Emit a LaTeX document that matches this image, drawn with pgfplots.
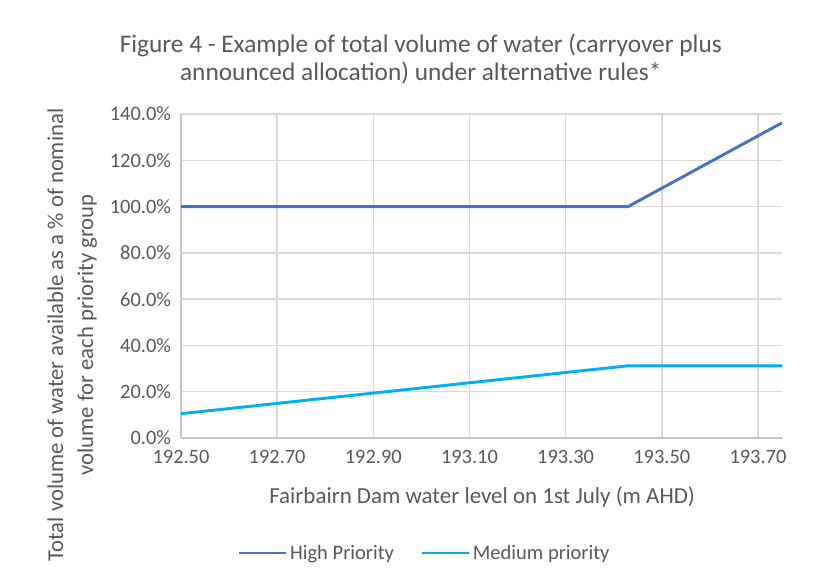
\documentclass[border=0pt]{standalone}
\usepackage{pgfplots}
\pgfplotsset{compat=1.18}
\usepackage{fontspec}
\setmainfont{Carlito}
\definecolor{hiblue}{HTML}{4472C4}
\definecolor{medblue}{HTML}{00B0F0}
\definecolor{gridgray}{HTML}{D9D9D9}
\definecolor{txtgray}{HTML}{595959}
\begin{document}
\begin{tikzpicture}
\begin{axis}[
  scale only axis,
  width=450.75pt, height=243pt,
  at={(0pt,0pt)}, anchor=south west,
  xmin=192.5, xmax=193.75,
  ymin=0, ymax=140,
  xtick={192.5,192.7,192.9,193.1,193.3,193.5,193.7},
  xticklabels={192.50,192.70,192.90,193.10,193.30,193.50,193.70},
  ytick={0,20,40,60,80,100,120,140},
  yticklabels={0.0\%,20.0\%,40.0\%,60.0\%,80.0\%,100.0\%,120.0\%,140.0\%},
  xmajorgrids, ymajorgrids,
  grid style={gridgray, line width=1.1pt},
  axis x line*=bottom, axis y line*=left,
  x axis line style={-, draw=gridgray!80!gray, line width=1.1pt},
  y axis line style={-, draw=gridgray!80!gray, line width=1.1pt},
  major tick length=0pt,
  tick style={draw=none},
  ticklabel style={font=\fontsize{15.3pt}{18pt}\selectfont, text=txtgray},
  xticklabel style={yshift=-6pt},
  yticklabel style={xshift=-4pt},
  xlabel={Fairbairn Dam water level on 1st July (m AHD)},
  xlabel style={font=\fontsize{17.2pt}{20pt}\selectfont, text=txtgray, at={(axis description cs:0.501,-0.182)}, anchor=center},
  ylabel={Total volume of water available as a \% of nominal\\volume for each priority group},
  ylabel style={font=\fontsize{17pt}{22.5pt}\selectfont, text=txtgray, align=center, at={(axis description cs:-0.181,0.318)}, anchor=center, rotate=0},
  title={Figure 4 - Example of total volume of water (carryover plus\\announced allocation) under alternative rules*},
  title style={font=\fontsize{19pt}{20.5pt}\selectfont, text=txtgray, align=center, at={(axis description cs:0.399,1.145)}, anchor=center},
  legend columns=2,
  legend style={draw=none, fill=none, font=\fontsize{15.4pt}{18pt}\selectfont, text=txtgray, at={(axis description cs:0.406,-0.355)}, anchor=center, /tikz/every even column/.append style={column sep=18pt}},
  legend image code/.code={\draw[#1, line width=2.2pt] (0pt,0pt) -- (35pt,0pt);},
]
\addplot[hiblue, line width=2.2pt] coordinates {(192.5,100) (193.43,100) (193.75,136.2)};
\addlegendentry{High Priority}
\addplot[medblue, line width=2.2pt] coordinates {(192.5,10.5) (193.43,31.2) (193.75,31.2)};
\addlegendentry{Medium priority}
\end{axis}
\path[use as bounding box] (-135.75pt,-105.75pt) rectangle (483pt,328.5pt);
\end{tikzpicture}
\end{document}
